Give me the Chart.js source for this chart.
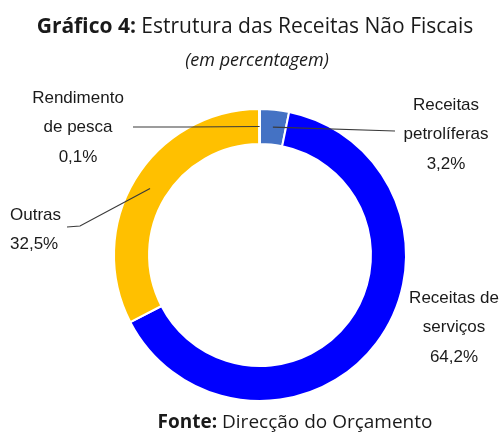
<!DOCTYPE html>
<html>
<head>
<meta charset="utf-8">
<script src="https://cdn.jsdelivr.net/npm/chart.js@4"></script>
<style>
  html, body { margin: 0; padding: 0; background: #fff; }
  #wrap { position: relative; width: 501px; height: 433px; }
  canvas { position: absolute; left: 0; top: 0; }
  .txt { position: absolute; white-space: nowrap; color: #1a1a1a; font-family: "Open Sans", sans-serif; transform: translate(-50%, -50%); }
  #title { left: 255px; top: 25px; font-size: 21px; }
  #sub { left: 257px; top: 59px; font-size: 18px; font-style: italic; }
  #foot { left: 295px; top: 421px; font-size: 19px; }
  b { font-weight: 700; }
</style>
</head>
<body>
<div id="wrap">
  <canvas id="chart" width="501" height="433"></canvas>
  <div class="txt" id="title"><b>Gráfico 4:</b> Estrutura das Receitas Não Fiscais</div>
  <div class="txt" id="sub">(em percentagem)</div>
  <div class="txt" id="foot"><b>Fonte:</b> Direcção do Orçamento</div>
</div>
<script>
// categorias, em sentido horário a partir do topo
const categories = ["Receitas petrolíferas", "Receitas de serviços", "Outras", "Rendimento de pesca"]
const labelLines = [["Receitas", "petrolíferas"], ["Receitas de", "serviços"], ["Outras"], ["Rendimento", "de pesca"]]
const shares = [3.2, 64.2, 32.5, 0.1]
const colors = ["#4472C4", "#0000FF", "#FFC000", "#FFC000"]

// onde fica cada rótulo e o cotovelo da linha de chamada
const labelLayout = [
    {x: 446, y: 105, align: "center", line: [[395, 131]]},
    {x: 454, y: 298, align: "center", line: null},
    {x: 10, y: 215, align: "left", line: [[67, 227], [80, 226]]},
    {x: 78, y: 98, align: "center", line: [[133, 127], [188, 127]]}
]

const fmt = v => v.toFixed(1).replace(".", ",") + "%"

const calloutPlugin = {
    id: "callouts",
    afterDatasetsDraw(chart){
        const ctx = chart.ctx
        const meta = chart.getDatasetMeta(0)
        ctx.save()
        meta.data.forEach((arc, i) => {
            const lay = labelLayout[i]
            const p = arc.getProps(["x", "y", "startAngle", "endAngle", "innerRadius", "outerRadius"], true)
            const mid = (p.startAngle + p.endAngle) / 2
            const r = (p.innerRadius + p.outerRadius) / 2
            const px = p.x + Math.cos(mid) * r
            const py = p.y + Math.sin(mid) * r
            if(lay.line){
                ctx.strokeStyle = "#3a3a3a"
                ctx.lineWidth = 1.2
                ctx.beginPath()
                ctx.moveTo(lay.line[0][0], lay.line[0][1])
                for(let k = 1; k < lay.line.length; k++) ctx.lineTo(lay.line[k][0], lay.line[k][1])
                ctx.lineTo(px, py)
                ctx.stroke()
            }
            ctx.fillStyle = "#1a1a1a"
            ctx.font = "17px 'Liberation Sans', Arial, sans-serif"
            ctx.textAlign = lay.align
            ctx.textBaseline = "middle"
            const lines = labelLines[i].concat([fmt(shares[i])])
            lines.forEach((t, k) => ctx.fillText(t, lay.x, lay.y + k * 29.5))
        })
        ctx.restore()
    }
}

new Chart(document.getElementById("chart").getContext("2d"), {
    type: "doughnut",
    data: {
        labels: categories,
        datasets: [{
            data: shares,
            backgroundColor: colors,
            borderColor: "#ffffff",
            borderWidth: 2
        }]
    },
    options: {
        responsive: false,
        animation: false,
        cutout: "76%",
        rotation: 0,
        layout: {padding: {top: 108, bottom: 31, left: 19, right: 0}},
        plugins: {
            legend: {display: false},
            tooltip: {enabled: false},
            title: {display: false}
        }
    },
    plugins: [calloutPlugin]
})
</script>
</body>
</html>
